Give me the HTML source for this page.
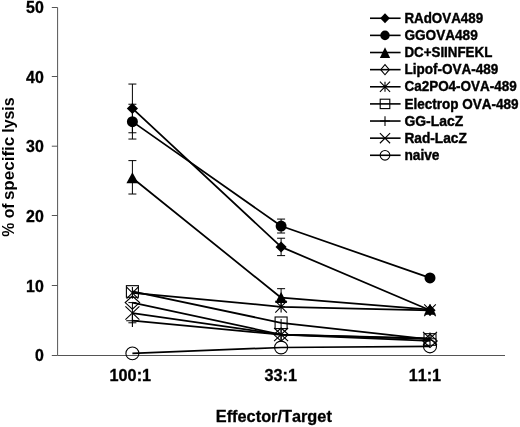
<!DOCTYPE html>
<html lang="en"><head><meta charset="utf-8"><title>Effector/Target specific lysis</title>
<style>html,body{margin:0;padding:0;background:#fff}svg{display:block}text{font-kerning:none;font-family:"Liberation Sans",Arial,Helvetica,sans-serif;font-weight:bold;fill:#000}</style></head><body>
<svg width="520" height="427" viewBox="0 0 520 427">
<rect width="520" height="427" fill="#fff"/>
<g stroke="#555" stroke-width="1" fill="none">
<path d="M57.6 7.5V355.5H505.0"/>
<path d="M51.8 355.5H57.6"/>
<path d="M51.8 285.5H57.6"/>
<path d="M51.8 215.5H57.6"/>
<path d="M51.8 146.2H57.6"/>
<path d="M51.8 76.5H57.6"/>
<path d="M51.8 7.5H57.6"/>
</g>
<g font-size="15.7" text-anchor="end" stroke="#000" stroke-width="0.3">
<text transform="translate(43.8 361.25) scale(1.015 1)">0</text>
<text transform="translate(43.8 291.65) scale(1.015 1)">10</text>
<text transform="translate(43.8 222.05) scale(1.015 1)">20</text>
<text transform="translate(43.8 152.45) scale(1.015 1)">30</text>
<text transform="translate(43.8 82.85) scale(1.015 1)">40</text>
<text transform="translate(43.8 13.25) scale(1.015 1)">50</text>
</g>
<g font-size="16" text-anchor="middle" stroke="#000" stroke-width="0.3">
<text transform="translate(130.3 381.2) scale(1.015 1)">100:1</text>
<text transform="translate(280.7 381.2) scale(1.015 1)">33:1</text>
<text transform="translate(424.9 381.2) scale(1.015 1)">11:1</text>
<text text-anchor="start" transform="translate(215.8 422) scale(1.02 1)">Effector/Target</text>
</g>
<g font-size="16.3">
<text transform="translate(13.5 236.7) rotate(-90) scale(0.967 1)">% of</text>
<text transform="translate(13.5 200.1) rotate(-90) scale(1.046 1)">specific</text>
<text transform="translate(13.5 132.7) rotate(-90) scale(0.972 1)">lysis</text>
</g>
<g stroke="#000" stroke-width="1" fill="none">
<path d="M132.4 84.06V132.78M128.4 84.06H136.4M128.4 132.78H136.4"/>
<path d="M281.1 238.22V255.62M277.1 238.22H285.1M277.1 255.62H285.1"/>
<path d="M132.4 104.24V139.04M128.4 104.24H136.4M128.4 139.04H136.4"/>
<path d="M281.1 219.08V233M277.1 219.08H285.1M277.1 233H285.1"/>
<path d="M132.4 160.62V194.03M128.4 160.62H136.4M128.4 194.03H136.4"/>
<path d="M281.1 288.68V306.78M277.1 288.68H285.1M277.1 306.78H285.1"/>
<path d="M132.4 302.6V322.79M128.4 302.6H136.4M128.4 322.79H136.4"/>
<path d="M281.1 319V341.2"/>
</g>
<g stroke="#000" stroke-width="1.75" fill="none" stroke-linejoin="round">
<polyline points="132.4,108.42 281.1,246.92 430,310.26"/>
<polyline points="132.4,121.64 281.1,226.04 430,277.9"/>
<polyline points="132.4,178.02 281.1,297.73 430,309.56"/>
<polyline points="132.4,302.6 281.1,334.62 430,340.88"/>
<polyline points="132.4,292.86 281.1,306.78 430,310.26"/>
<polyline points="132.4,291.47 281.1,322.79 430,339.49"/>
<polyline points="132.4,320.7 281.1,334.62 430,338.8"/>
<polyline points="132.4,313.04 281.1,334.62 430,338.45"/>
<polyline points="132.4,353.41 281.1,347.5 430,346.45"/>
</g>
<path d="M132.4 102.92L138 108.42L132.4 113.92L126.8 108.42Z" fill="#000"/>
<path d="M281.1 241.42L286.7 246.92L281.1 252.42L275.5 246.92Z" fill="#000"/>
<path d="M430 304.76L435.6 310.26L430 315.76L424.4 310.26Z" fill="#000"/>
<ellipse cx="132.4" cy="121.64" rx="5.5" ry="5.5" fill="#000"/>
<ellipse cx="281.1" cy="226.04" rx="5.5" ry="5.5" fill="#000"/>
<ellipse cx="430" cy="277.9" rx="5.5" ry="5.5" fill="#000"/>
<path d="M132.4 172.22L138.4 183.22L126.4 183.22Z" fill="#000"/>
<path d="M281.1 291.93L287.1 302.93L275.1 302.93Z" fill="#000"/>
<path d="M430 303.76L436 314.76L424 314.76Z" fill="#000"/>
<path d="M132.4 296L139.6 302.6L132.4 309.2L125.2 302.6Z" fill="none" stroke="#000" stroke-width="1.1"/>
<path d="M281.1 328.02L288.3 334.62L281.1 341.22L273.9 334.62Z" fill="none" stroke="#000" stroke-width="1.1"/>
<path d="M430 334.28L437.2 340.88L430 347.48L422.8 340.88Z" fill="none" stroke="#000" stroke-width="1.1"/>
<path d="M126.6 287.06L138.2 298.66M138.2 287.06L126.6 298.66M132.4 287.06V298.66" fill="none" stroke="#000" stroke-width="1.1"/>
<path d="M275.3 300.98L286.9 312.58M286.9 300.98L275.3 312.58M281.1 300.98V312.58" fill="none" stroke="#000" stroke-width="1.1"/>
<path d="M424.2 304.46L435.8 316.06M435.8 304.46L424.2 316.06M430 304.46V316.06" fill="none" stroke="#000" stroke-width="1.1"/>
<rect x="126.4" y="285.67" width="12" height="11.6" fill="none" stroke="#000" stroke-width="1.1"/>
<rect x="275.1" y="316.99" width="12" height="11.6" fill="none" stroke="#000" stroke-width="1.1"/>
<rect x="424" y="333.69" width="12" height="11.6" fill="none" stroke="#000" stroke-width="1.1"/>
<path d="M126.2 320.7H138.6M132.4 314.5V326.9" fill="none" stroke="#000" stroke-width="1.1"/>
<path d="M274.9 334.62H287.3M281.1 328.42V340.82" fill="none" stroke="#000" stroke-width="1.1"/>
<path d="M423.8 338.8H436.2M430 332.6V345" fill="none" stroke="#000" stroke-width="1.1"/>
<path d="M125.4 306.44L139.4 319.64M139.4 306.44L125.4 319.64" fill="none" stroke="#000" stroke-width="1.1"/>
<path d="M274.1 328.02L288.1 341.22M288.1 328.02L274.1 341.22" fill="none" stroke="#000" stroke-width="1.1"/>
<path d="M423 331.85L437 345.05M437 331.85L423 345.05" fill="none" stroke="#000" stroke-width="1.1"/>
<ellipse cx="132.4" cy="353.41" rx="6.5" ry="6.4" fill="none" stroke="#000" stroke-width="1.1"/>
<ellipse cx="281.1" cy="347.5" rx="6.5" ry="6.4" fill="none" stroke="#000" stroke-width="1.1"/>
<ellipse cx="430" cy="346.45" rx="6.5" ry="6.4" fill="none" stroke="#000" stroke-width="1.1"/>
<path d="M370.0 18.25H400.6" stroke="#000" stroke-width="1.6"/>
<path d="M385 13.15L389.8 18.25L385 23.35L380.2 18.25Z" fill="#000"/>
<text transform="translate(404.4 22.85) scale(0.936 1)" font-size="14.3" stroke="#000" stroke-width="0.4">RAdOVA489</text>
<path d="M370.0 35.38H400.6" stroke="#000" stroke-width="1.6"/>
<ellipse cx="385" cy="35.38" rx="4.7" ry="4.8" fill="#000"/>
<text transform="translate(404.4 39.98) scale(0.952 1)" font-size="14.3" stroke="#000" stroke-width="0.4">GGOVA489</text>
<path d="M370.0 52.51H400.6" stroke="#000" stroke-width="1.6"/>
<path d="M385 47.31L390.15 58.11L379.85 58.11Z" fill="#000"/>
<text transform="translate(404.4 57.11) scale(0.934 1)" font-size="14.3" stroke="#000" stroke-width="0.4">DC+SIINFEKL</text>
<path d="M370.0 69.64H400.6" stroke="#000" stroke-width="1.6"/>
<path d="M385 64.54L389.3 69.64L385 74.74L380.7 69.64Z" fill="none" stroke="#000" stroke-width="1.1"/>
<text transform="translate(404.4 74.24) scale(0.947 1)" font-size="14.3" stroke="#000" stroke-width="0.4">Lipof-OVA-489</text>
<path d="M370.0 86.77H400.6" stroke="#000" stroke-width="1.6"/>
<path d="M379.9 81.67L390.1 91.87M390.1 81.67L379.9 91.87M385 81.67V91.87" fill="none" stroke="#000" stroke-width="1.1"/>
<text transform="translate(404.4 91.37) scale(0.944 1)" font-size="14.3" stroke="#000" stroke-width="0.4">Ca2PO4-OVA-489</text>
<path d="M370.0 103.9H400.6" stroke="#000" stroke-width="1.6"/>
<rect x="380.2" y="99.2" width="9.6" height="9.4" fill="none" stroke="#000" stroke-width="1.1"/>
<text transform="translate(404.4 108.5) scale(0.945 1)" font-size="14.3" stroke="#000" stroke-width="0.4">Electrop OVA-489</text>
<path d="M370.0 121.03H400.6" stroke="#000" stroke-width="1.6"/>
<path d="M380.1 121.03H389.9M385 116.13V125.93" fill="none" stroke="#000" stroke-width="1.1"/>
<text transform="translate(404.4 125.63) scale(0.975 1)" font-size="14.3" stroke="#000" stroke-width="0.4">GG-LacZ</text>
<path d="M370.0 138.16H400.6" stroke="#000" stroke-width="1.6"/>
<path d="M379.9 133.06L390.1 143.26M390.1 133.06L379.9 143.26" fill="none" stroke="#000" stroke-width="1.1"/>
<text transform="translate(404.4 142.76) scale(0.96 1)" font-size="14.3" stroke="#000" stroke-width="0.4">Rad-LacZ</text>
<path d="M370.0 155.29H400.6" stroke="#000" stroke-width="1.6"/>
<ellipse cx="385" cy="155.29" rx="4.85" ry="4.8" fill="none" stroke="#000" stroke-width="1.1"/>
<text transform="translate(404.4 159.89) scale(0.96 1)" font-size="14.3" stroke="#000" stroke-width="0.4">naive</text>
</svg></body></html>
